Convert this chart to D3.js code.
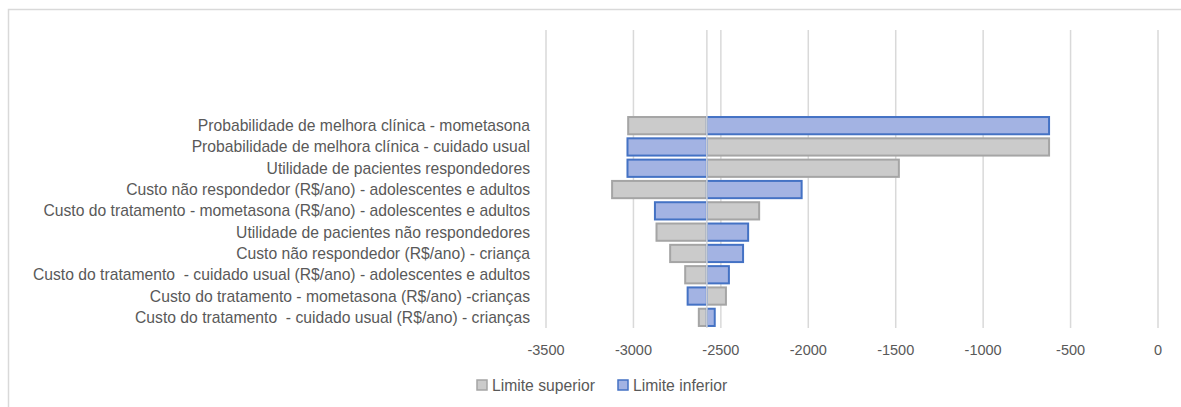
<!DOCTYPE html>
<html>
<head>
<meta charset="utf-8">
<script src="https://cdn.jsdelivr.net/npm/d3@7"></script>
<style>
  body { margin: 0; background: #fff; }
  text { font-family: "Liberation Sans", Arial, sans-serif; fill: #595959; white-space: pre; }
</style>
</head>
<body>
<div id="chart"></div>
<script>
const categories = [
  'Probabilidade de melhora clínica - mometasona',
  'Probabilidade de melhora clínica - cuidado usual',
  'Utilidade de pacientes respondedores',
  'Custo não respondedor (R$/ano) - adolescentes e adultos',
  'Custo do tratamento - mometasona (R$/ano) - adolescentes e adultos',
  'Utilidade de pacientes não respondedores',
  'Custo não respondedor (R$/ano) - criança',
  'Custo do tratamento  - cuidado usual (R$/ano) - adolescentes e adultos',
  'Custo do tratamento - mometasona (R$/ano) -crianças',
  'Custo do tratamento  - cuidado usual (R$/ano) - crianças',
];

// base case value where the bars meet
const baseValue = -2580;

const limiteSuperior = [-3030, -623, -1482, -3122, -2281, -2868, -2790, -2704, -2471, -2626];
const limiteInferior = [-623, -3034, -3034, -2038, -2877, -2344, -2373, -2454, -2690, -2535];

const tickValues = [-3500, -3000, -2500, -2000, -1500, -1000, -500, 0];

const series = [
  { name: 'Limite superior', values: limiteSuperior, fill: '#cbcbcb', stroke: '#a5a5a5' },
  { name: 'Limite inferior', values: limiteInferior, fill: '#a3b3e3', stroke: '#4472c4' },
];

const width = 1181;
const height = 407;
const plot = { left: 546, right: 1158, top: 30, bottom: 328 };

const svg = d3.select('#chart')
  .append('svg')
  .attr('width', width)
  .attr('height', height);

// chart frame
svg.append('rect')
  .attr('x', 8.5)
  .attr('y', 9.5)
  .attr('width', width + 10)
  .attr('height', height + 10)
  .attr('fill', 'none')
  .attr('stroke', '#d9d9d9')
  .attr('stroke-width', 1.5);

const x = d3.scaleLinear()
  .domain([-3500, 0])
  .range([plot.left, plot.right]);

const y = d3.scaleBand()
  .domain(categories)
  .range([115, plot.bottom])
  .paddingInner(0.19)
  .paddingOuter(0.095);

// gridlines
svg.append('g')
  .selectAll('line')
  .data(tickValues)
  .join('line')
  .attr('x1', (d) => x(d))
  .attr('x2', (d) => x(d))
  .attr('y1', plot.top)
  .attr('y2', plot.bottom)
  .attr('stroke', '#d9d9d9')
  .attr('stroke-width', 1.5);

// tick labels
svg.append('g')
  .selectAll('text')
  .data(tickValues)
  .join('text')
  .attr('x', (d) => x(d))
  .attr('y', 355)
  .attr('text-anchor', 'middle')
  .style('font-size', '14.5px')
  .text((d) => d);

// bars
series.forEach((s) => {
  svg.append('g')
    .selectAll('rect')
    .data(s.values)
    .join('rect')
    .attr('x', (d) => x(Math.min(d, baseValue)))
    .attr('y', (d, i) => y(categories[i]))
    .attr('width', (d) => Math.abs(x(d) - x(baseValue)))
    .attr('height', y.bandwidth())
    .attr('fill', s.fill)
    .attr('stroke', s.stroke)
    .attr('stroke-width', 2);
});

// vertical axis at base value
svg.append('line')
  .attr('x1', x(baseValue))
  .attr('x2', x(baseValue))
  .attr('y1', plot.top)
  .attr('y2', plot.bottom)
  .attr('stroke', '#d9d9d9')
  .attr('stroke-width', 1.5);

// category labels
svg.append('g')
  .selectAll('text')
  .data(categories)
  .join('text')
  .attr('x', 530)
  .attr('y', (d) => y(d) + y.bandwidth() / 2)
  .attr('dy', '0.35em')
  .attr('text-anchor', 'end')
  .style('font-size', '15.7px')
  .text((d) => d);

// legend
const legend = svg.append('g');
const legendX = [477, 618];
series.forEach((s, i) => {
  legend.append('rect')
    .attr('x', legendX[i])
    .attr('y', 380)
    .attr('width', 10)
    .attr('height', 10)
    .attr('fill', s.fill)
    .attr('stroke', s.stroke)
    .attr('stroke-width', 1.5);
  legend.append('text')
    .attr('x', legendX[i] + 15)
    .attr('y', 390.5)
    .style('font-size', '15.7px')
    .text(s.name);
});
</script>
</body>
</html>
